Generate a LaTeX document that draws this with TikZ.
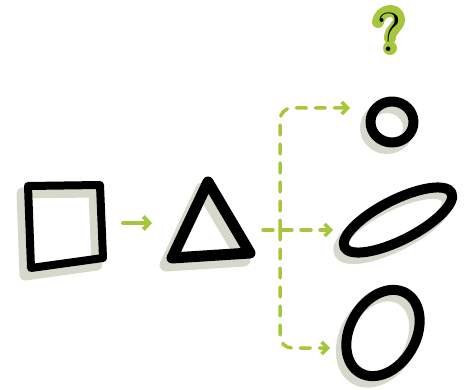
\documentclass[tikz,border=0pt]{standalone}
\usetikzlibrary{arrows.meta,shapes.geometric}
\definecolor{lime}{HTML}{A6C73B}
\definecolor{shade}{HTML}{D6D8CC}
\tikzset{
  ink/.style={draw=black, line width=8pt, line cap=round, line join=round},
  shadowline/.style={draw=shade, line width=11pt, line cap=round, line join=round},
  dsh/.style={draw=lime, line width=3.5pt, line cap=round, dash pattern=on 10pt off 9pt,
    -{Straight Barb[length=6pt,width=12pt,line width=3.5pt]}},
  greenarrow/.style={draw=lime, line width=4pt, line cap=round,
    -{Straight Barb[length=6pt,width=13pt,line width=4pt]}},
  ellipsenode/.style={ellipse, inner sep=0pt},
  qback/.style={draw=lime, line width=12pt, line cap=round, line join=round}
}
\begin{document}
\begin{tikzpicture}[x=1pt,y=1pt]
\useasboundingbox (0,0) rectangle (469,389);
% shadows
\begin{scope}[shift={(-6,-7)}]
  \path[shadowline] (28,203) -- (100,204) -- (103,131) -- (31,121) -- cycle;
  \path[shadowline, line width=13pt] (208,207) -- (250,136) -- (172,131) -- cycle;
\end{scope}
\begin{scope}[shift={(-5,-6)}]
  \node[ellipsenode, shadowline, minimum width=43pt, minimum height=41pt] (shc) at (392,267) {};
  \node[ellipsenode, shadowline, minimum width=120pt, minimum height=40pt, rotate=27] (shw) at (398,169) {};
  \node[ellipsenode, shadowline, minimum width=92pt, minimum height=66pt, rotate=60] (shb) at (383,56) {};
\end{scope}
% square
\path[ink] (28,203) -- (100,204) -- (103,131) -- (31,121) -- cycle;
% triangle
\coordinate (trR) at (263,159);
\path[ink, line width=11pt] (208,207) -- (250,136) -- (172,131) -- cycle;
% circle and ellipses
\node[ellipsenode, ink, line width=10pt, minimum width=43pt, minimum height=41pt] (circ) at (392,267) {};
\node[ellipsenode, ink, line width=10pt, minimum width=120pt, minimum height=40pt, rotate=27] (wide) at (398,169) {};
\node[ellipsenode, ink, line width=10pt, minimum width=92pt, minimum height=66pt, rotate=60] (tall) at (383,56) {};
% connectors
\coordinate (a1) at (123,166);
\coordinate (a2) at (152,166);
\draw[greenarrow] (a1) -- (a2);
\coordinate (split) at (280,159);
\coordinate (c1) at (350,281);
\coordinate (c2) at (333,159);
\coordinate (c3) at (330,41);
\draw[dsh, rounded corners=12pt] (split) |- (c1);
\draw[dsh, rounded corners=12pt] (split) |- (c3);
\draw[dsh] (trR) -- (c2);
% question mark
\coordinate (qa) at (378,367);
\coordinate (qb) at (390,351);
\coordinate (qd) at (390,341);
\path[qback] (qa) .. controls (380,380) and (398,382) .. (399,370)
  .. controls (399,362) and (390,360) .. (qb);
\fill[lime] (qd) circle (7pt);
\node[text=black, font=\fontsize{55}{55}\selectfont] (q) at (389,357) {?};
\end{tikzpicture}
\end{document}
